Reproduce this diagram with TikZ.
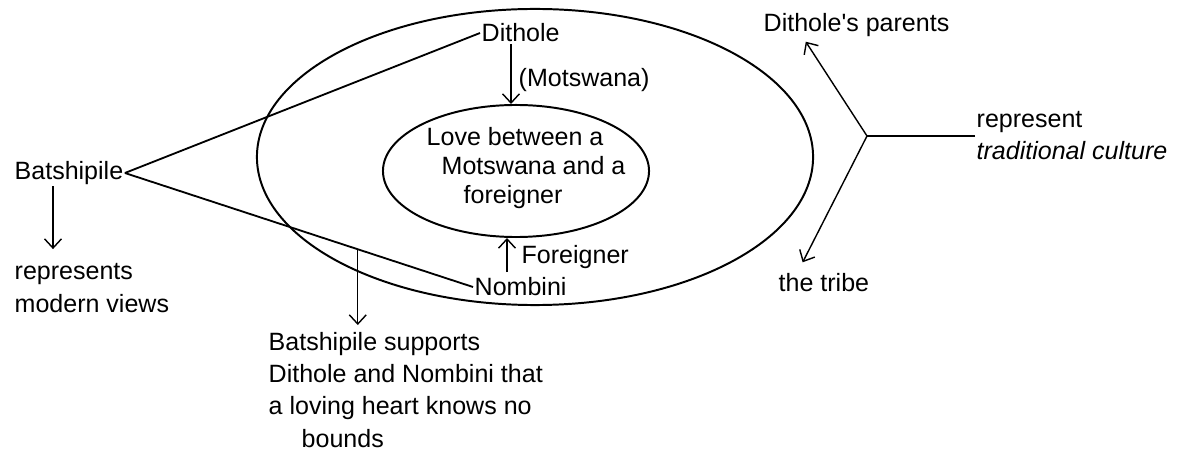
\documentclass[tikz,border=0pt]{standalone}
\usepackage{fontspec}
\setmainfont{Liberation Sans}
\usetikzlibrary{shapes.geometric,arrows.meta,calc}

\begin{document}
\begin{tikzpicture}[
            x=0.025cm, y=-0.025cm,
            every node/.style={font=\fontsize{17.8pt}{22.8pt}\selectfont, inner sep=1pt},
            ring/.style={ellipse, draw, line width=1.4pt, inner sep=0pt},
            txt/.style={align=left, anchor=west},
            link/.style={line width=1.3pt},
            arr/.style={->, >={Straight Barb[length=6.5pt,width=12pt]}, line width=1pt}
        ]
            \useasboundingbox (0,0) rectangle (1195,452);

            % Ellipses
            \node (outer) [ring, minimum width=13.9cm, minimum height=7.4cm] at (535,157) {};
            \node (inner) [ring, minimum width=6.65cm, minimum height=3.3cm] at (516,171) {};

            % Nodes
            \node (love) [txt, font=\fontsize{17.8pt}{20.6pt}\selectfont] at (425,168) {Love between a\\\hspace*{0.375cm}Motswana and a\\\hspace*{0.925cm}foreigner};
            \node (Dithole) [txt] at (480,33) {Dithole};
            \node (Motswana) [txt] at (517,80) {(Motswana)};
            \node (Foreigner) [txt] at (520,257) {Foreigner};
            \node (Nombini) [txt] at (473,287) {Nombini};
            \node (Batshipile) [txt] at (13,173) {Batshipile};
            \node (modern) [txt] at (13,288) {represents\\modern views};
            \node (supports) [txt] at (267,390) {Batshipile supports\\Dithole and Nombini that\\a loving heart knows no\\\hspace*{0.825cm}bounds};
            \node (parents) [txt] at (762,25) {Dithole\textquotesingle s parents};
            \node (tribe) [txt] at (777,283) {the tribe};
            \node (culture) [txt] at (975,136) {represent\\\textit{traditional culture}};

            \coordinate (dstart) at ($(Dithole.south west)+(31,0)$);
            \coordinate (fstart) at ($(Foreigner.west)+(-13,15)$);
            \coordinate (bstart) at ($(Batshipile.south west)+(40,0)$);
            \coordinate (split) at ($(Batshipile.east)!0.669!(Nombini.west)$);
            \coordinate (fork) at (867,136);

            % Arrows
            \draw [link] (Batshipile.east) -- (Dithole.west);
            \draw [link] (Batshipile.east) -- (Nombini.west);
            \draw [arr] (dstart) -- (dstart |- inner.north);
            \draw [arr] (fstart) -- (fstart |- inner.south);
            \draw [arr, shorten >=0.325cm] (bstart) -- (bstart |- modern.north);
            \draw [arr, shorten >=0.15cm] (split) -- (split |- supports.north);
            \draw [link] (culture.west) -- (fork);
            \draw [arr, shorten >=0.1cm] (fork) -- ($(parents.south west)!0.22!(parents.south east)$);
            \draw [arr, shorten >=0.275cm] (fork) -- ($(tribe.north west)!0.22!(tribe.north east)$);
        \end{tikzpicture}
\end{document}
